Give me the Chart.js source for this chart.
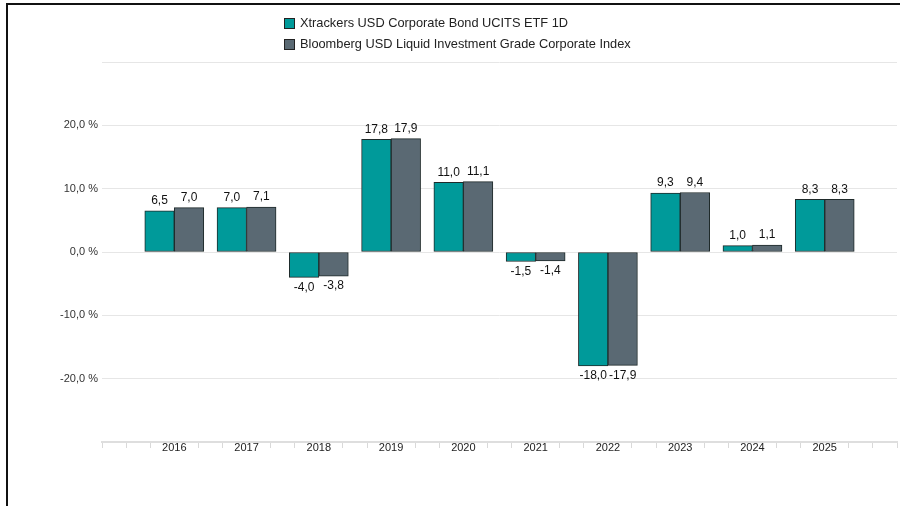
<!DOCTYPE html>
<html>
<head>
<meta charset="utf-8">
<script src="https://cdn.jsdelivr.net/npm/chart.js@4.4.1/dist/chart.umd.min.js"></script>
<style>
  html, body { margin: 0; padding: 0; background: #fff; }
  #wrap { position: relative; width: 901px; height: 506px; }
  #frame {
    position: absolute; left: 6px; top: 3px; width: 892px; height: 503px;
    border-top: 2px solid #111; border-left: 2px solid #111;
    pointer-events: none;
  }
</style>
</head>
<body>
<div id="wrap">
  <canvas id="perfChart"></canvas>
  <div id="frame"></div>
</div>
<script>
// Data
const years = [2016, 2017, 2018, 2019, 2020, 2021, 2022, 2023, 2024, 2025];
const etfReturns = [6.5, 7.0, -4.0, 17.8, 11.0, -1.5, -18.0, 9.3, 1.0, 8.3];
const indexReturns = [7.0, 7.1, -3.8, 17.9, 11.1, -1.4, -17.9, 9.4, 1.1, 8.3];
const seriesNames = [
    'Xtrackers USD Corporate Bond UCITS ETF 1D',
    'Bloomberg USD Liquid Investment Grade Corporate Index'
];
const yTickValues = [-20, -10, 0, 10, 20];

const FONT = '"Liberation Sans", Arial, sans-serif';
const TEAL = '#009a9a';
const SLATE = '#5a6973';

const fmt = v => v.toFixed(1).replace('.', ',');

// value labels above / below each bar
const valueLabels = {
    id: 'valueLabels',
    afterDatasetsDraw(chart) {
        const ctx = chart.ctx;
        ctx.save();
        ctx.font = '12px ' + FONT;
        ctx.fillStyle = '#111';
        ctx.textAlign = 'center';
        ctx.textBaseline = 'middle';
        chart.data.datasets.forEach((ds, i) => {
            chart.getDatasetMeta(i).data.forEach((bar, j) => {
                const v = ds.data[j].y;
                const y = v >= 0 ? bar.y - 10 : bar.y + 10;
                ctx.fillText(fmt(v), bar.x, y);
            });
        });
        ctx.restore();
    }
};

// stacked, left aligned legend like the reference
const stackedLegend = {
    id: 'stackedLegend',
    afterDraw(chart) {
        const ctx = chart.ctx;
        ctx.save();
        ctx.font = '12.8px ' + FONT;
        ctx.textBaseline = 'middle';
        chart.data.datasets.forEach((ds, i) => {
            const cy = 23.5 + i * 21;
            ctx.fillStyle = ds.backgroundColor;
            ctx.fillRect(284.5, cy - 5, 10, 10);
            ctx.strokeStyle = '#222';
            ctx.lineWidth = 1;
            ctx.strokeRect(284.5, cy - 5, 10, 10);
            ctx.fillStyle = '#222';
            ctx.fillText(ds.label, 300, cy);
        });
        ctx.restore();
    }
};

const ctx = document.getElementById('perfChart').getContext('2d');
new Chart(ctx, {
    type: 'bar',
    data: {
        datasets: [
            {
                label: seriesNames[0],
                data: years.map((yr, i) => ({ x: yr, y: etfReturns[i] })),
                backgroundColor: TEAL,
                borderColor: '#1f2a2a',
                borderWidth: 1,
                borderSkipped: false,
                barThickness: 29.5
            },
            {
                label: seriesNames[1],
                data: years.map((yr, i) => ({ x: yr, y: indexReturns[i] })),
                backgroundColor: SLATE,
                borderColor: '#1f2a2a',
                borderWidth: 1,
                borderSkipped: false,
                barThickness: 29.5
            }
        ]
    },
    options: {
        responsive: true,
        maintainAspectRatio: false,
        animation: false,
        layout: { padding: { top: 62, right: 4, left: 0, bottom: 0 } },
        plugins: {
            legend: { display: false },
            tooltip: { enabled: false }
        },
        scales: {
            x: {
                type: 'linear',
                offset: false,
                min: years[0] - 1,
                max: years[years.length - 1] + 1,
                afterBuildTicks(scale) {
                    const t = [];
                    for (let k = 0; k <= (scale.max - scale.min) * 3; k++) {
                        t.push({ value: scale.min + k / 3 });
                    }
                    scale.ticks = t;
                },
                afterFit(scale) { scale.height = 64; },
                grid: {
                    offset: false,
                    drawOnChartArea: false,
                    drawTicks: true,
                    tickLength: 6,
                    tickWidth: 1,
                    tickColor: c => {
                        const v = c.tick ? c.tick.value : 0;
                        const r = Math.round(v);
                        return (Math.abs(v - r) < 1e-6 && years.includes(r)) ? 'rgba(0,0,0,0)' : '#d9d9d9';
                    }
                },
                border: { display: true, color: '#dedede', width: 2 },
                ticks: {
                    autoSkip: false,
                    maxRotation: 0,
                    padding: -6.5,
                    color: '#222',
                    font: { family: FONT, size: 11 },
                    callback: v => {
                        const r = Math.round(v);
                        return (Math.abs(v - r) < 1e-6 && years.includes(r)) ? String(r) : '';
                    }
                }
            },
            y: {
                min: -30,
                max: 30,
                afterFit(scale) { scale.width = 102; },
                grid: { color: '#e6e6e6', lineWidth: 1, drawTicks: false },
                border: { display: false },
                ticks: {
                    stepSize: 10,
                    padding: 4,
                    color: '#333',
                    font: { family: FONT, size: 11 },
                    callback: v => yTickValues.includes(v) ? fmt(v) + ' %' : ''
                }
            }
        }
    },
    plugins: [valueLabels, stackedLegend]
});
</script>
</body>
</html>
